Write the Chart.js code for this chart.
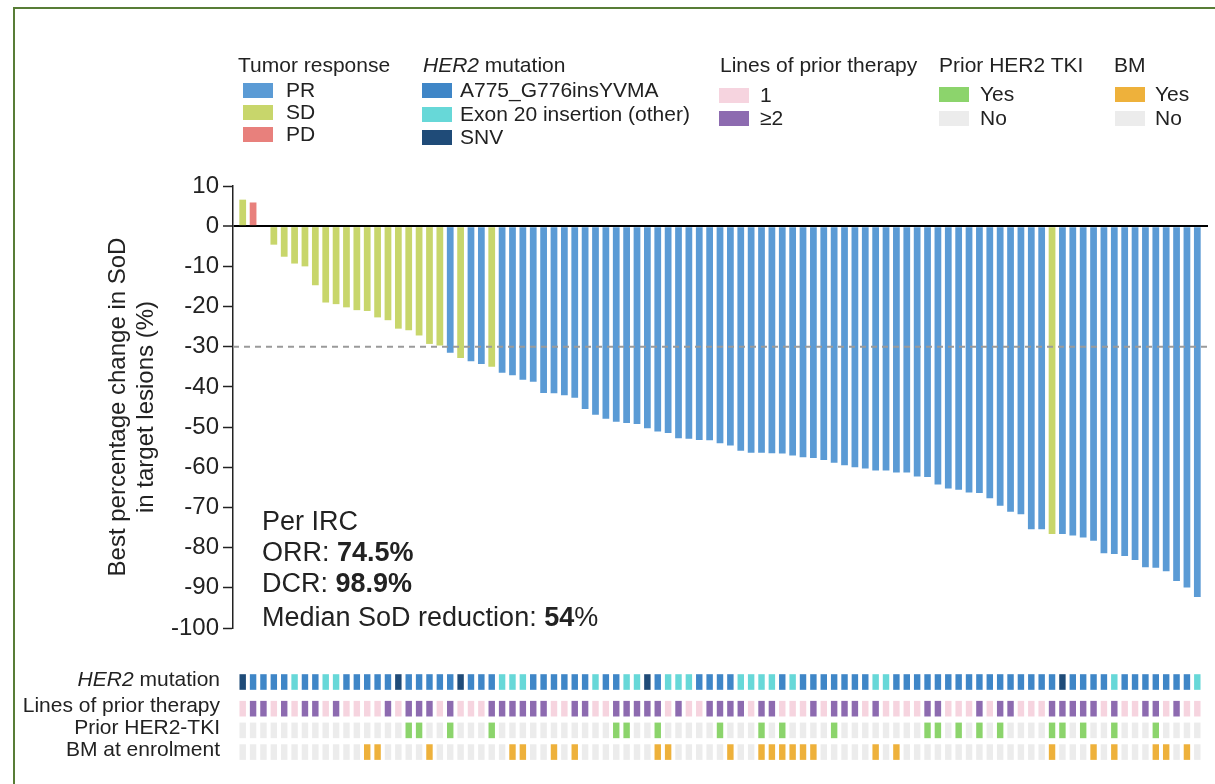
<!DOCTYPE html>
<html>
<head>
<meta charset="utf-8">
<script src="https://cdn.jsdelivr.net/npm/chart.js@4.4.1/dist/chart.umd.min.js"></script>
<style>
  body { margin: 0; background: #fff; font-family: "Liberation Sans", Arial, sans-serif; color: #222; }
  #wrap { position: relative; width: 1215px; height: 784px; overflow: hidden; }
  #frame { position: absolute; left: 13px; top: 7px; right: -5px; bottom: -5px;
           border-left: 2px solid #587d36; border-top: 2px solid #587d36; }
  canvas { position: absolute; left: 0; top: 0; }
  .lg { position: absolute; font-size: 21px; line-height: 24px; white-space: nowrap; }
  .sw { position: absolute; width: 30px; height: 15px; }
  .note { position: absolute; left: 262px; font-size: 27px; line-height: 30px; white-space: nowrap; }
</style>
</head>
<body>
<div id="wrap">
  <div id="frame"></div>
  <canvas id="c" width="1215" height="784"></canvas>
  <div class="note" style="top:506px">Per IRC</div>
  <div class="note" style="top:537px">ORR: <b>74.5%</b></div>
  <div class="note" style="top:568px">DCR: <b>98.9%</b></div>
  <div class="note" style="top:602px">Median SoD reduction: <b>54</b>%</div>
</div>
<script>
// best % change in SoD, one per patient, sorted as in the waterfall
const values = [
  6.6, 5.9, 0, -4.6, -7.6, -9.3, -10.0, -14.7, -19.0, -19.4, -20.2, -20.9, -21.1, -22.7, -23.4, -25.5,
  -25.9, -27.2, -29.3, -29.7, -31.5, -32.8, -33.6, -34.3, -35.0, -36.5, -37.1, -38.2, -38.7, -41.5, -41.6,
  -42.1, -42.7, -45.5, -46.9, -47.9, -48.7, -49.0, -49.2, -50.3, -51.1, -51.5, -52.8, -52.9, -53.2, -53.3,
  -54.0, -54.6, -55.9, -56.4, -56.4, -56.5, -56.6, -57.1, -57.5, -57.7, -58.2, -58.9, -59.5, -60.0, -60.3,
  -60.8, -60.8, -61.3, -61.3, -62.3, -62.4, -64.3, -65.3, -65.6, -66.3, -66.4, -67.7, -69.6, -71.1, -71.7,
  -75.4, -75.4, -76.6, -76.6, -77.0, -77.5, -78.3, -81.4, -81.6, -82.1, -83.1, -84.9, -85.0, -85.9, -88.3,
  -89.9, -92.3
];

const response = [
  'SD','PD','SD','SD','SD','SD','SD','SD','SD','SD','SD','SD','SD','SD','SD','SD','SD','SD','SD','SD',
  'PR','SD','PR','PR','SD',
  'PR','PR','PR','PR','PR','PR','PR','PR','PR','PR','PR','PR','PR','PR','PR','PR','PR','PR','PR','PR','PR',
  'PR','PR','PR','PR','PR','PR','PR','PR','PR','PR','PR','PR','PR','PR','PR','PR','PR','PR','PR','PR','PR',
  'PR','PR','PR','PR','PR','PR','PR','PR','PR','PR','PR','SD',
  'PR','PR','PR','PR','PR','PR','PR','PR','PR','PR','PR','PR','PR','PR','PR'
];

// A = A775_G776insYVMA, E = exon 20 insertion (other), S = SNV
const her2 = [
  'S','A','A','A','A','E','A','A','E','E','A','A','A','A','A','S','A','A','A','A','A','S','A','A','A','E','E','E','A','A','A',
  'A','A','A','E','A','A','E','E','S','A','E','E','E','A','A','A','A','E','E','E','E','A','E','A','A','A','A','A','A','A','E',
  'E','A','A','A','A','A','A','A','A','A','A','A','A','A','A','A','A','S','A','A','A','A','E','A','A','A','A','A','A','A','E'
];

// lines of prior therapy: 1 or 2 (=2 or more)
const priorLines = [
  1,2,2,1,2,1,2,2,1,2,1,1,1,1,2,1,2,2,2,1,2,1,1,1,2,2,2,2,2,2,1,
  1,2,2,1,1,2,2,2,2,2,1,2,1,1,2,2,2,2,1,2,2,1,1,1,2,1,2,2,2,1,2,
  1,1,1,1,2,2,1,1,1,2,1,2,2,1,1,1,2,2,2,2,2,1,2,1,1,2,2,1,2,1,1
];

const priorTki = [
  0,0,0,0,0,0,0,0,0,0,0,0,0,0,0,0,1,1,0,0,1,0,0,0,1,0,0,0,0,0,0,
  0,0,0,0,0,1,1,0,0,1,0,0,0,0,0,1,0,0,0,1,0,1,0,0,0,0,1,0,0,0,0,
  0,0,0,0,1,1,0,1,0,1,0,1,0,0,0,0,1,1,0,1,0,0,1,0,0,0,1,0,0,0,0
];

const brainMets = [
  0,0,0,0,0,0,0,0,0,0,0,0,1,1,0,0,0,0,1,0,0,0,0,0,0,0,1,1,0,0,1,
  0,1,0,0,0,0,0,0,0,1,1,0,0,0,0,0,1,0,0,1,1,1,1,1,1,0,0,0,0,0,1,
  0,1,0,0,0,0,0,0,0,0,0,0,0,0,0,0,1,0,0,0,1,0,1,0,0,0,1,1,0,1,0
];

const yTicks = { min: -100, max: 10, step: 10 };
const threshold = -30;

const RESP_COLOR = { PR: '#5b9bd5', SD: '#c8d66b', PD: '#e8807c' };
const HER2_COLOR = { A: '#3f86c7', E: '#67d8d8', S: '#1f4b78' };
const LINES_COLOR = { 1: '#f6d4df', 2: '#8d6bb0' };
const GREY = '#ececec';
const TKI_COLOR = ['#ececec', '#8cd46c'];
const BM_COLOR = ['#ececec', '#eeb13b'];

// layout of the x scale and the annotation tracks
const XMIN = 0.065, XMAX = 94.03;
const ROW_POS = [0, 1.23, 2.23, 3.23];
const HALF = 0.36;
const trackLabels = [
  [['HER2', 'italic '], [' mutation', '']],
  [['Lines of prior therapy', '']],
  [['Prior HER2-TKI', '']],
  [['BM at enrolment', '']]
];

const ids = values.map((v, i) => i + 1);

function track(row, colors) {
  return {
    type: 'bar',
    yAxisID: 'yt',
    grouped: false,
    barPercentage: 0.62,
    categoryPercentage: 1,
    order: 2,
    data: ids.map(i => ({ x: i, y: [ROW_POS[row] - HALF, ROW_POS[row] + HALF] })),
    backgroundColor: colors
  };
}

const labelPlugin = {
  id: 'trackLabels',
  afterDraw(chart) {
    const ctx = chart.ctx;
    const yt = chart.scales.yt;
    ctx.save();
    ctx.fillStyle = '#222';
    ctx.textBaseline = 'middle';
    ctx.textAlign = 'right';
    trackLabels.forEach((parts, r) => {
      const y = yt.getPixelForValue(ROW_POS[r]) - 2;
      let x = 220;
      for (let k = parts.length - 1; k >= 0; k--) {
        ctx.font = parts[k][1] + '21px "Liberation Sans", Arial, sans-serif';
        ctx.fillText(parts[k][0], x, y);
        x -= ctx.measureText(parts[k][0]).width;
      }
    });
    ctx.restore();
  }
};

new Chart(document.getElementById('c'), {
  type: 'bar',
  data: {
    datasets: [
      {
        type: 'line',
        yAxisID: 'y',
        order: 0,
        data: [{ x: XMIN, y: threshold }, { x: XMAX, y: threshold }],
        borderColor: '#9a9a9a',
        borderWidth: 2,
        borderDash: [6, 5],
        pointRadius: 0
      },
      {
        yAxisID: 'y',
        grouped: false,
        order: 1,
        barPercentage: 0.65,
        categoryPercentage: 1,
        data: ids.map((i, k) => ({ x: i, y: values[k] })),
        backgroundColor: response.map(r => RESP_COLOR[r])
      },
      track(0, her2.map(h => HER2_COLOR[h])),
      track(1, priorLines.map(l => LINES_COLOR[l])),
      track(2, priorTki.map(t => TKI_COLOR[t])),
      track(3, brainMets.map(b => BM_COLOR[b]))
    ]
  },
  options: {
    responsive: false,
    animation: false,
    layout: { padding: { top: 186, left: 0, right: 7, bottom: 20 } },
    plugins: { legend: { display: false }, tooltip: { enabled: false } },
    scales: {
      x: { type: 'linear', min: XMIN, max: XMAX, offset: false, display: false },
      y: {
        type: 'linear',
        position: 'left',
        stack: 'v',
        stackWeight: 442,
        weight: 2,
        min: yTicks.min,
        max: yTicks.max,
        ticks: { stepSize: yTicks.step, autoSkip: false, color: '#222', padding: 4,
                 font: { size: 24, family: '"Liberation Sans", Arial, sans-serif' } },
        grid: {
          color: c => (c.tick && c.tick.value === 0) ? '#000' : 'rgba(0,0,0,0)',
          lineWidth: c => (c.tick && c.tick.value === 0) ? 2 : 1,
          tickColor: '#222',
          tickLength: 10,
          tickWidth: 1.5
        },
        border: { color: '#222', width: 1.5 },
        title: {
          display: true,
          text: ['Best percentage change in SoD', 'in target lesions (%)'],
          color: '#222',
          font: { size: 24, family: '"Liberation Sans", Arial, sans-serif', lineHeight: 1.17 },
          padding: { top: 104, bottom: 0 }
        },
        afterFit(s) { s.width = 233; }
      },
      yt: {
        type: 'linear',
        position: 'left',
        stack: 'v',
        stackWeight: 136,
        weight: 1,
        reverse: true,
        min: -2.49,
        max: 3.78,
        ticks: { display: false },
        grid: { display: false },
        border: { display: false },
        afterFit(s) { s.width = 233; }
      }
    }
  },
  plugins: [labelPlugin]
});

// legend groups
const legendGroups = [
  { title: 'Tumor response', x: 238, sx: 243, lx: 286, ys: [90, 112, 134],
    items: [['PR', RESP_COLOR.PR], ['SD', RESP_COLOR.SD], ['PD', RESP_COLOR.PD]] },
  { title: '<i>HER2</i> mutation', x: 423, sx: 422, lx: 460, ys: [90, 114, 137],
    items: [['A775_G776insYVMA', HER2_COLOR.A], ['Exon 20 insertion (other)', HER2_COLOR.E], ['SNV', HER2_COLOR.S]] },
  { title: 'Lines of prior therapy', x: 720, sx: 719, lx: 760, ys: [95, 118],
    items: [['1', LINES_COLOR[1]], ['≥2', LINES_COLOR[2]]] },
  { title: 'Prior HER2 TKI', x: 939, sx: 939, lx: 980, ys: [94, 118],
    items: [['Yes', TKI_COLOR[1]], ['No', GREY]] },
  { title: 'BM', x: 1114, sx: 1115, lx: 1155, ys: [94, 118],
    items: [['Yes', BM_COLOR[1]], ['No', GREY]] }
];

const wrap = document.getElementById('wrap');
legendGroups.forEach(g => {
  const t = document.createElement('div');
  t.className = 'lg';
  t.style.left = g.x + 'px';
  t.style.top = '53px';
  t.innerHTML = g.title;
  wrap.appendChild(t);
  g.items.forEach((it, k) => {
    const sw = document.createElement('div');
    sw.className = 'sw';
    sw.style.left = g.sx + 'px';
    sw.style.top = (g.ys[k] - 7) + 'px';
    sw.style.background = it[1];
    wrap.appendChild(sw);
    const lb = document.createElement('div');
    lb.className = 'lg';
    lb.style.left = g.lx + 'px';
    lb.style.top = (g.ys[k] - 12) + 'px';
    lb.textContent = it[0];
    wrap.appendChild(lb);
  });
});
</script>
</body>
</html>
